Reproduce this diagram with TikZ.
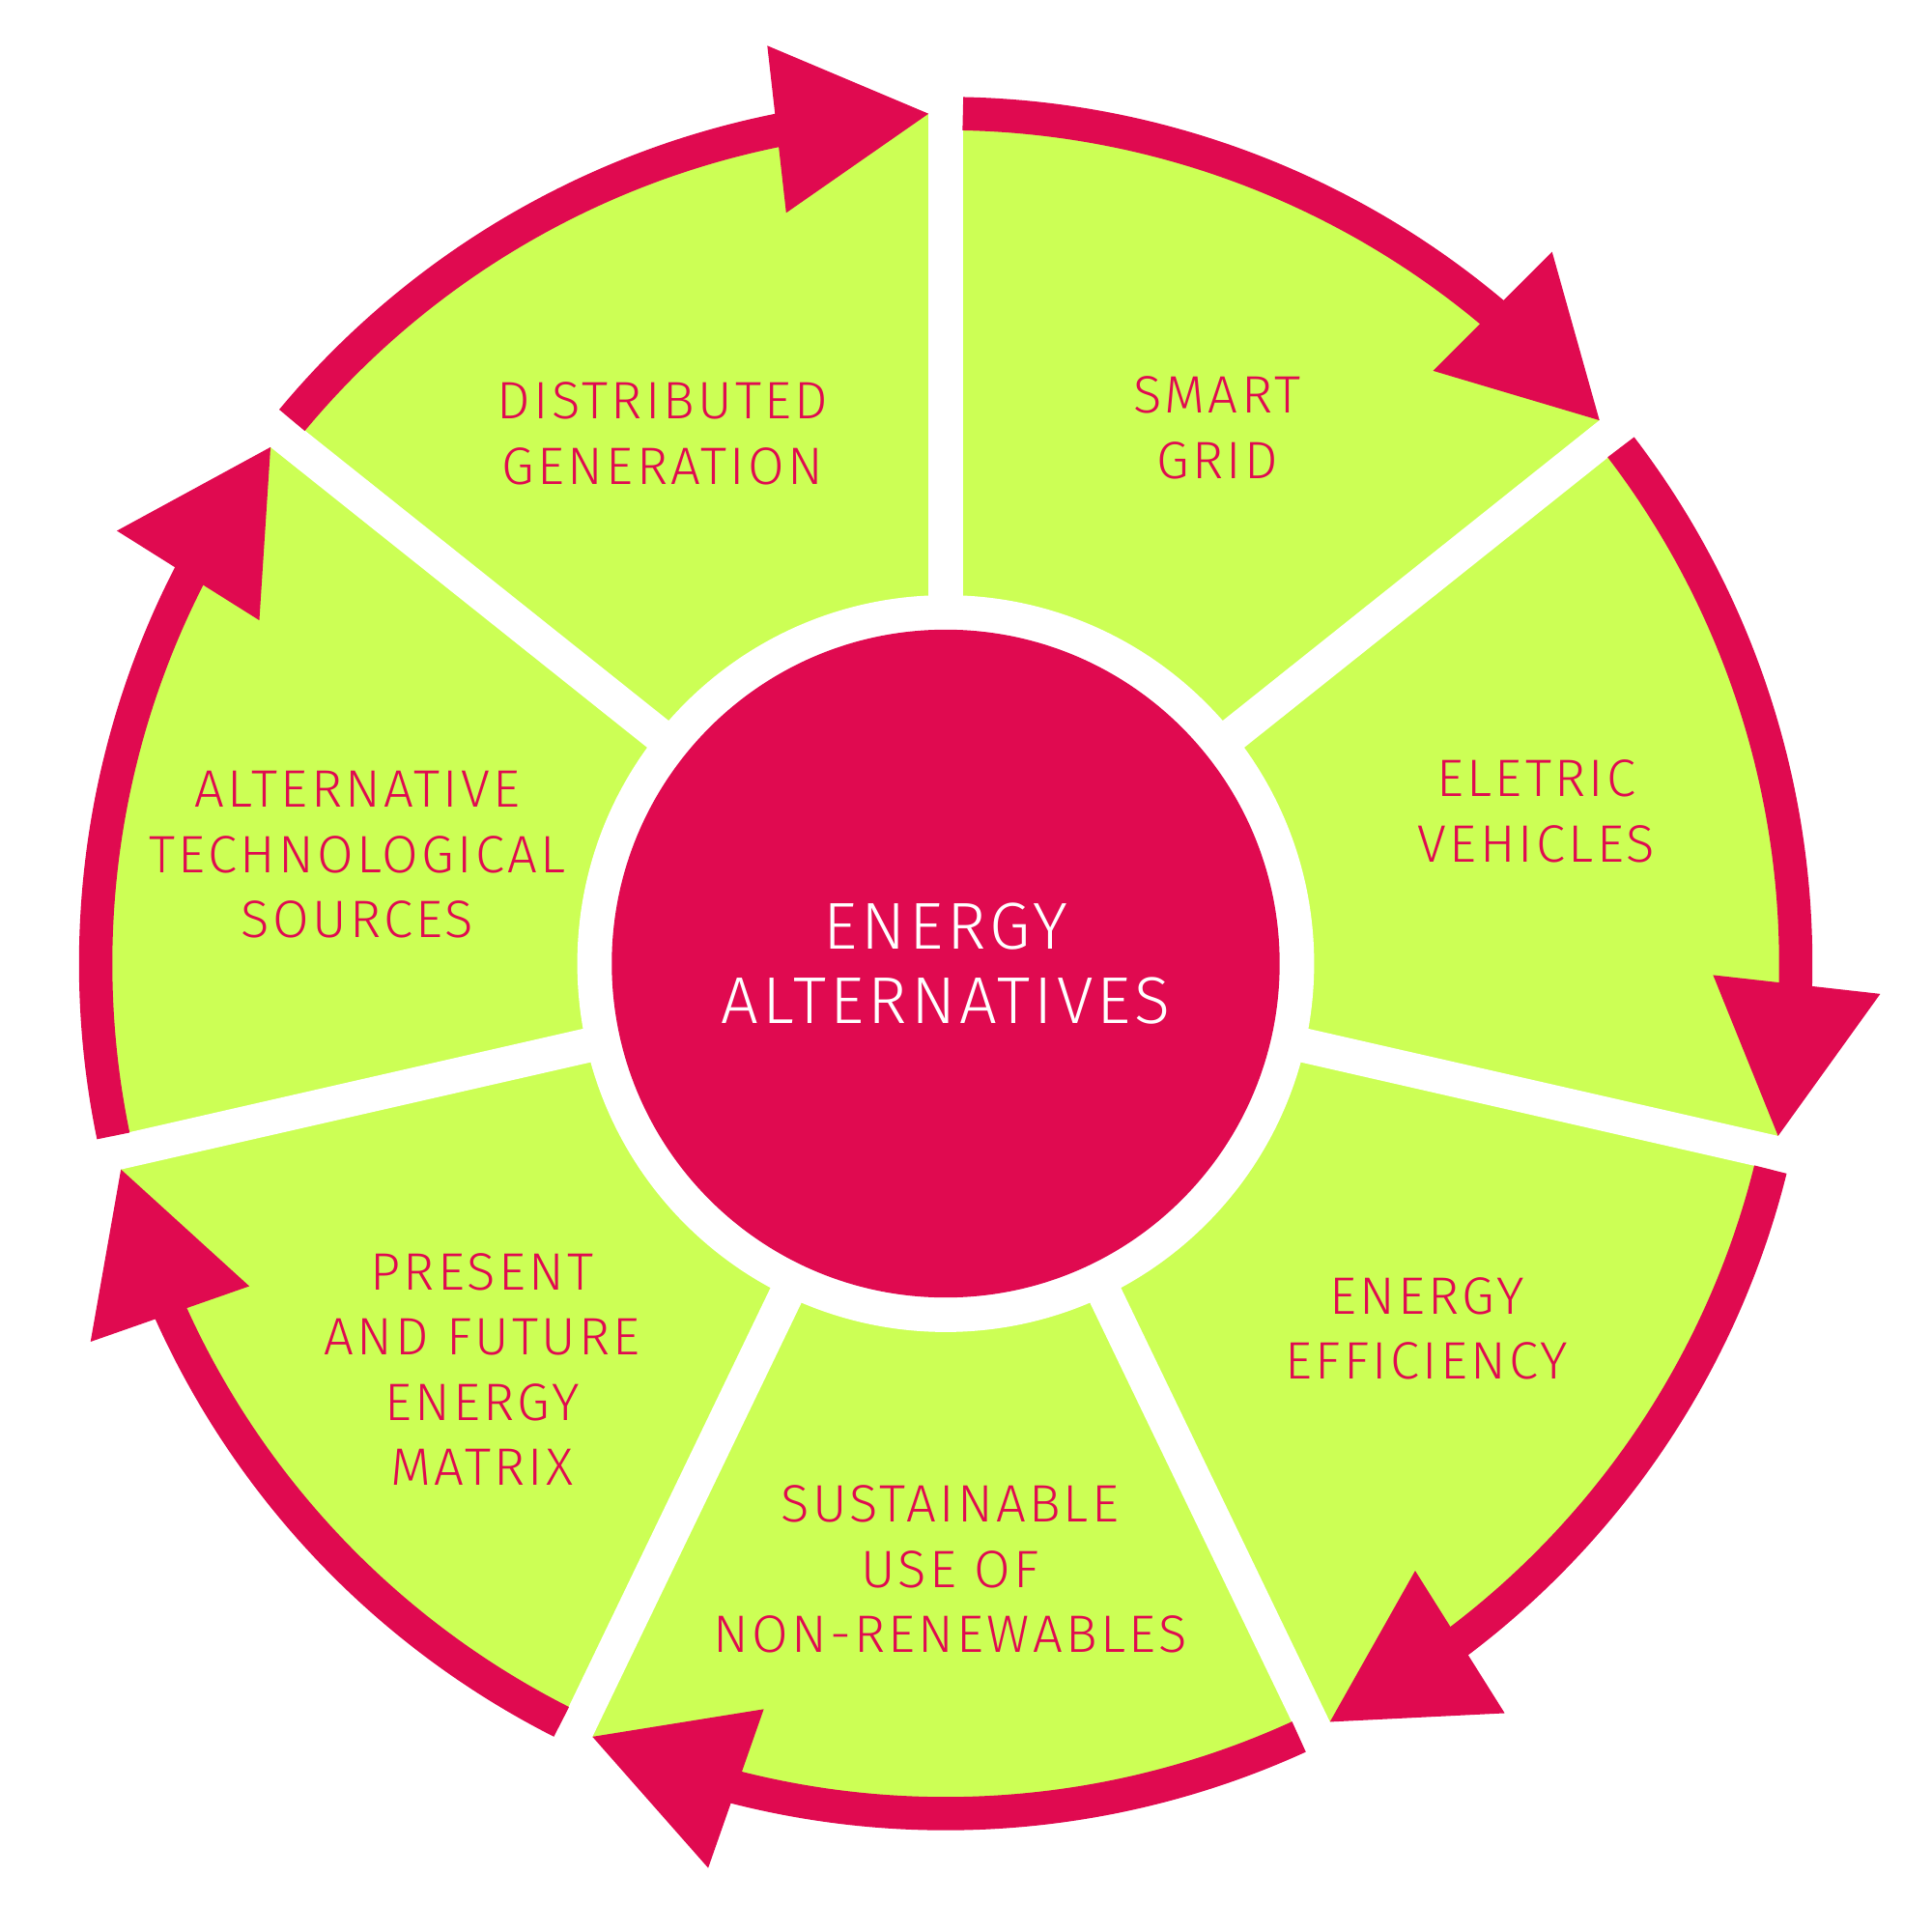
\documentclass[tikz,border=0pt]{standalone}
\usepackage{fontspec}
\newfontfamily\lblfont{Fira Sans Light}[LetterSpace=6]
\usetikzlibrary{positioning}
\definecolor{lime}{HTML}{CCFF55}
\definecolor{rose}{HTML}{E00A50}
\tikzset{
  seg/.style={text=rose, align=center, font=\lblfont\fontsize{15.5}{19.2}\selectfont},
  hub/.style={circle, fill=rose, minimum size=6.914cm, text=white, align=center, font=\lblfont\fontsize{19.5}{22}\selectfont},
  ring/.style={draw=rose, line width=0.345cm}}

\begin{document}
\begin{tikzpicture}
\useasboundingbox (-9.79,-10.025) rectangle (10.21,9.975);
% green ring cut into seven pieces
\fill[lime] (0,0) circle (8.8);
\foreach \k in {0,...,6}{
  \pgfmathsetmacro\g{90-\k*360/7}
  \fill[white, rotate=\g] (0,-0.178) rectangle (10,0.178);
}
\fill[white] (0,0) circle (3.814);
\node[hub] (hub) at (0,0) {ENERGY\\ALTERNATIVES};
% red arrows round the ring
\foreach \k in {0,...,6}{
  \pgfmathsetmacro\g{90-\k*360/7}
  \draw[ring] ({\g-1.16}:8.8) arc[start angle=\g-1.16, end angle=\g-41.5, radius=8.8];
  \fill[rose] ({\g-39.43}:7.945) -- ({\g-50.27}:8.8) -- ({\g-40.43}:9.68) -- cycle;
}
\node[seg] (distgen) at (-2.93,5.485) {DISTRIBUTED\\GENERATION};
\node[seg] (smartgrid) at (2.81,5.545) {SMART\\GRID};
\node[seg] (evehicles) at (6.115,1.575) {ELETRIC\\VEHICLES};
\node[seg] (effic) at (4.98,-3.78) {ENERGY\\EFFICIENCY};
\node[seg] (sustain) at (0.044,-6.27) {SUSTAINABLE\\USE OF\\NON-RENEWABLES};
\node[seg] (matrix) at (-4.80,-4.20) {PRESENT\\AND FUTURE\\ENERGY\\MATRIX};
\node[seg] (alttech) at (-6.09,1.125) {ALTERNATIVE\\TECHNOLOGICAL\\SOURCES};
\end{tikzpicture}
\end{document}
